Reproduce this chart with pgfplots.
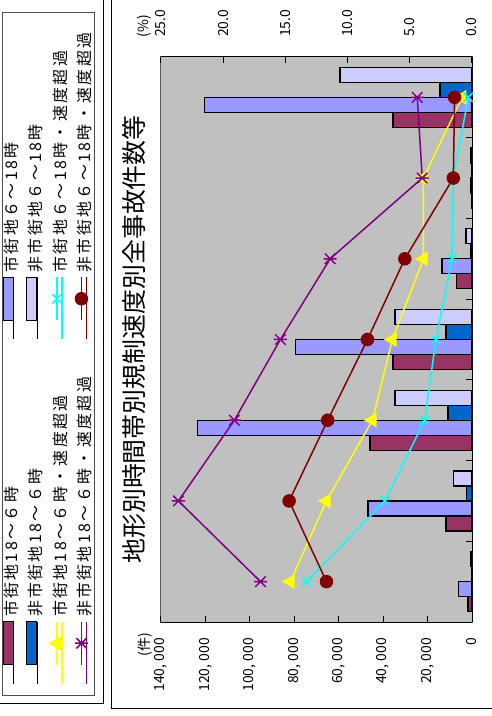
\documentclass[border=0pt]{standalone}
\usepackage{fontspec}
\setmainfont{Noto Sans CJK JP}
\newfontfamily\legfont{Noto Sans CJK JP}[LetterSpace=15]
\usepackage{graphicx}
\usepackage{pgfplots}
\pgfplotsset{compat=1.18}
\usepackage{pgfplotstable}

\definecolor{cM}{HTML}{993366}
\definecolor{cB}{HTML}{0066CC}
\definecolor{cP}{HTML}{9999FF}
\definecolor{cL}{HTML}{CCCCFF}
\definecolor{cY}{HTML}{FFFF00}
\definecolor{cC}{HTML}{00FFFF}
\definecolor{cV}{HTML}{800080}
\definecolor{cR}{HTML}{800000}
\definecolor{bgG}{HTML}{C0C0C0}

\pgfdeclareplotmark{xstar}{%
  \pgfpathmoveto{\pgfqpoint{0pt}{\pgfplotmarksize}}%
  \pgfpathlineto{\pgfqpoint{0pt}{-\pgfplotmarksize}}%
  \pgfpathmoveto{\pgfqpoint{-.8\pgfplotmarksize}{-.8\pgfplotmarksize}}%
  \pgfpathlineto{\pgfqpoint{.8\pgfplotmarksize}{.8\pgfplotmarksize}}%
  \pgfpathmoveto{\pgfqpoint{-.8\pgfplotmarksize}{.8\pgfplotmarksize}}%
  \pgfpathlineto{\pgfqpoint{.8\pgfplotmarksize}{-.8\pgfplotmarksize}}%
  \pgfusepathqstroke}

% bars: x  m=市街地18～6  p=市街地6～18  b=非市街地18～6  l=非市街地6～18
\pgfplotstableread{
x m p b l
0 1800 5900 0 700
1 11700 46800 2300 8500
2 45900 123600 10800 34700
3 35600 79600 11700 34700
4 6800 13500 600 2700
5 100 700 0 500
6 35600 120500 14400 59400
}\bars

% lines (%): yel=市街地18～6 cya=市街地6～18 pur=非市街地18～6 red=非市街地6～18
\pgfplotstableread{
x yel cya pur red
0 14.6 13.3 17.0 11.7
1 11.7 7.0 23.6 14.7
2 8.0 3.8 19.1 11.6
3 6.4 2.9 15.4 8.4
4 3.9 1.6 11.4 5.4
5 3.9 1.5 4.0 1.5
6 0.8 0.3 4.4 1.4
}\lines

\pgfplotsset{
  barkey/.style={legend image code/.code={%
      \path (0bp,0bp) -- (62bp,0bp);
      \draw[##1] (19bp,0.3bp) rectangle (62bp,10.3bp);}},
  linekey/.style={legend image code/.code={%
      \path (0bp,0bp) -- (62bp,0bp);
      \draw[mark repeat=2,mark phase=2,##1] plot coordinates {(19bp,5.3bp) (40.5bp,5.3bp) (62bp,5.3bp)};}},
  barS/.style={ybar, bar width=0.186, draw=black, line width=1.2bp, fill=#1},
  yelS/.style={draw=cY, line width=1.5bp, mark=triangle*, mark size=7bp, mark options={solid, fill=cY, draw=cY}},
  cyaS/.style={draw=cC, line width=1.5bp, mark=x, mark size=6.5bp, mark options={solid, draw=cC}},
  purS/.style={draw=cV, line width=1.5bp, mark=xstar, mark size=6.5bp, mark options={solid, draw=cV}},
  redS/.style={draw=cR, line width=1.5bp, mark=*, mark size=6bp, mark options={solid, fill=cR, draw=cR}},
}

\newcommand{\tickfont}{\fontsize{14}{16}\selectfont}

\newsavebox{\chartbox}

\begin{document}
\begin{lrbox}{\chartbox}%
\begin{tikzpicture}
\path[use as bounding box] (0bp,0bp) rectangle (716bp,492bp);
\clip (0bp,0bp) rectangle (716bp,492bp);
% outer frames
\draw[black, line width=1bp] (7bp,-10bp) rectangle (730bp,380bp);
\draw[black, line width=1bp] (12bp,388bp) rectangle (730bp,510bp);

\begin{axis}[
  at={(94bp,20bp)}, anchor=south west,
  width=565bp, height=311bp, scale only axis,
  xmin=-0.5, xmax=6.5, ymin=0, ymax=140000,
  axis background/.style={fill=bgG, draw=gray!70!black, line width=1bp},
  axis x line*=bottom, axis y line*=left,
  every outer x axis line/.append style={-},
  every outer y axis line/.append style={-},
  axis line style={-, black, line width=1bp},
  xtick={-0.5,0.5,1.5,2.5,3.5,4.5,5.5,6.5}, xticklabels={},
  ytick={0,20000,40000,60000,80000,100000,120000,140000},
  scaled y ticks=false,
  yticklabel style={font=\tickfont, inner sep=0pt, /pgf/number format/.cd, fixed, precision=0, 1000 sep={,\kern3bp}, assume math mode=true},
  yticklabel shift=16bp,
  tick align=inside, major tick length=6bp,
  tick style={black, line width=1bp},
  title={地形別時間帯別規制速度別全事故件数等},
  title style={font=\fontsize{25}{30}\selectfont, at={(0.5,1)}, anchor=center, yshift=21bp},
  legend columns=2,
  legend cell align=left,
  legend style={
    at={(-0.13097,1.21222)}, anchor=south west,
    draw=gray!60!black, line width=1bp, fill=white,
    font=\legfont\fontsize{16}{18}\selectfont,
    inner xsep=11bp, inner ysep=0bp, row sep=5bp,
    nodes={text width=249bp, align=left, inner sep=0pt, text height=12bp, text depth=3.5bp},
    /tikz/every even column/.append style={column sep=28bp},
    /tikz/every odd column/.append style={column sep=4bp},
  },
]
\addplot[barS=cM, bar shift=-0.279, barkey] table[x=x, y=m]{\bars};
\addlegendentry{市街地18～６時}
\addplot[barS=cP, bar shift=-0.093, barkey] table[x=x, y=p]{\bars};
\addlegendentry{市街地６～18時}
\addplot[barS=cB, bar shift=0.093, barkey] table[x=x, y=b]{\bars};
\addlegendentry{非市街地18～６時}
\addplot[barS=cL, bar shift=0.279, barkey] table[x=x, y=l]{\bars};
\addlegendentry{非市街地６～18時}
\addlegendimage{linekey, yelS}
\addlegendentry{市街地18～６時・速度超過}
\addlegendimage{linekey, cyaS}
\addlegendentry{市街地６～18時・速度超過}
\addlegendimage{linekey, purS}
\addlegendentry{非市街地18～６時・速度超過}
\addlegendimage{linekey, redS}
\addlegendentry{非市街地６～18時・速度超過}
\end{axis}

\begin{axis}[
  at={(94bp,20bp)}, anchor=south west,
  width=565bp, height=311bp, scale only axis,
  xmin=-0.5, xmax=6.5, ymin=0, ymax=25,
  axis x line=none, axis y line*=right,
  every outer y axis line/.append style={-},
  axis line style={-, black, line width=1bp},
  ytick={0,5,10,15,20,25},
  yticklabel style={font=\tickfont, inner sep=0pt, /pgf/number format/.cd, fixed, fixed zerofill, precision=1, assume math mode=true},
  yticklabel shift=20bp,
  tick align=inside, major tick length=6bp,
  tick style={black, line width=1bp},
  clip=false,
]
\addplot[yelS] table[x=x, y=yel]{\lines};
\addplot[cyaS] table[x=x, y=cya]{\lines};
\addplot[redS] table[x=x, y=red]{\lines};
\addplot[purS] table[x=x, y=pur]{\lines};
\node[anchor=west, font=\tickfont, inner sep=0pt] at (axis description cs:1.035,1.055) {(\%)};
\node[anchor=east, font=\tickfont, inner sep=0pt] at (axis description cs:-0.0195,1.051) {(件)};
\end{axis}
\end{tikzpicture}%
\end{lrbox}%
\rotatebox{90}{\usebox{\chartbox}}%
\end{document}
